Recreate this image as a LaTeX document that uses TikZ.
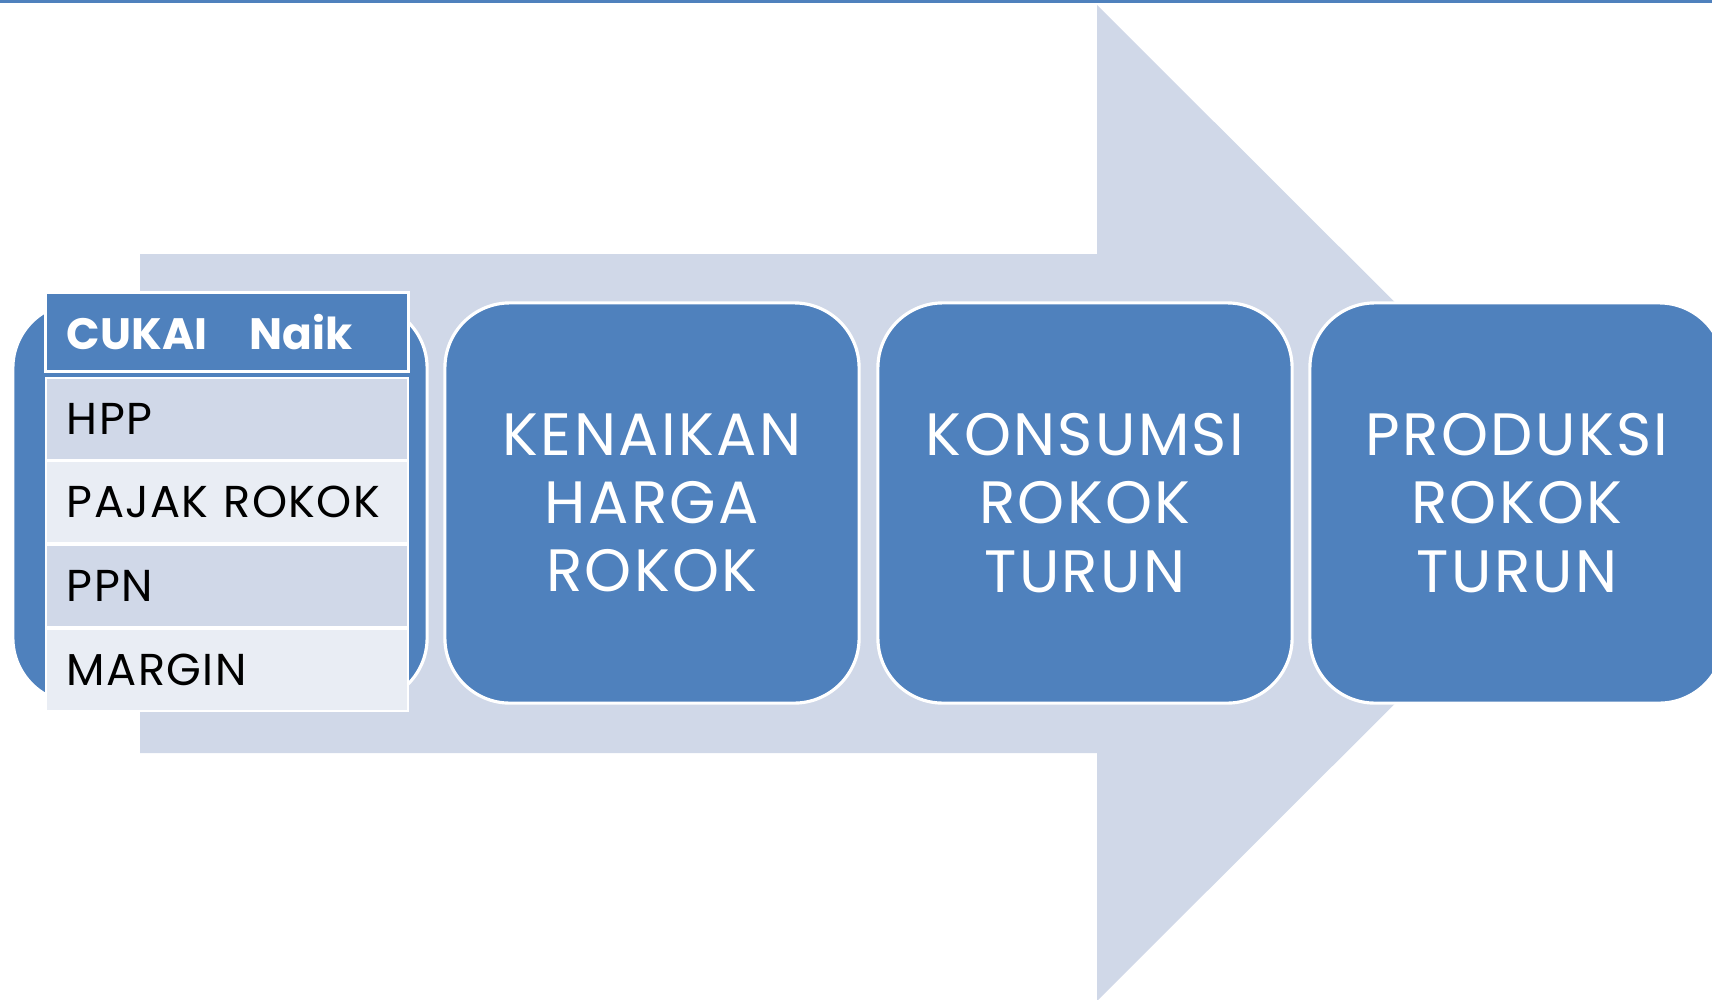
\documentclass[tikz,border=0pt]{standalone}
\usepackage{fontspec}
\setmainfont{Poppins}
\newfontfamily\boxfont[LetterSpace=4]{Poppins}
\newfontfamily\tabfont[LetterSpace=3]{Poppins}
\definecolor{blu}{HTML}{4F81BD}
\definecolor{arrowc}{HTML}{D0D8E8}
\definecolor{rowA}{HTML}{D0D8E8}
\definecolor{rowB}{HTML}{E9EDF4}
\tikzset{
  bigbox/.style={rounded corners=0.65cm, fill=blu, draw=white, line width=0.9pt,
    minimum width=4.14cm, minimum height=4.0cm, text=white, align=center,
    font=\boxfont\fontsize{17}{19.4}\selectfont, inner sep=0pt},
  tabrow/.style={draw=white, line width=0.6pt, minimum width=3.62cm, minimum height=0.82cm,
    text width=3.2cm, inner xsep=0.21cm, inner ysep=0pt, align=left,
    font=\tabfont\fontsize{12.7}{14}\selectfont},
  tabhead/.style={tabrow, fill=blu, text=white, minimum height=0.79cm, line width=0.8pt,
    font=\fontsize{12.5}{14}\selectfont\bfseries}
}
\begin{document}
\begin{tikzpicture}[x=0.01cm,y=-0.01cm]
\useasboundingbox (0,0) rectangle (1712,1000);
\clip (0,0) rectangle (1712,1000);
\fill[blu] (0,0) rectangle (1712,3);
\fill[arrowc] (140,254) -- (1097,254) -- (1097,5) -- (1596,503) -- (1097,1001) -- (1097,753) -- (140,753) -- cycle;
\node[bigbox] (b1) at (220,503) {};
\node[tabhead] (h) at (227,332) {CUKAI\hspace{0.42cm}Naik};
\node[tabrow, fill=rowA] (r1) at (227,419) {HPP};
\node[tabrow, fill=rowB] (r2) at (227,502) {PAJAK ROKOK};
\node[tabrow, fill=rowA] (r3) at (227,586) {PPN};
\node[tabrow, fill=rowB] (r4) at (227,670) {MARGIN};
\node[bigbox] (b2) at (652,503) {KENAIKAN\\HARGA\\ROKOK};
\node[bigbox] (b3) at (1085,503) {KONSUMSI\\ROKOK\\TURUN};
\node[bigbox] (b4) at (1517,503) {PRODUKSI\\ROKOK\\TURUN};
\end{tikzpicture}
\end{document}
